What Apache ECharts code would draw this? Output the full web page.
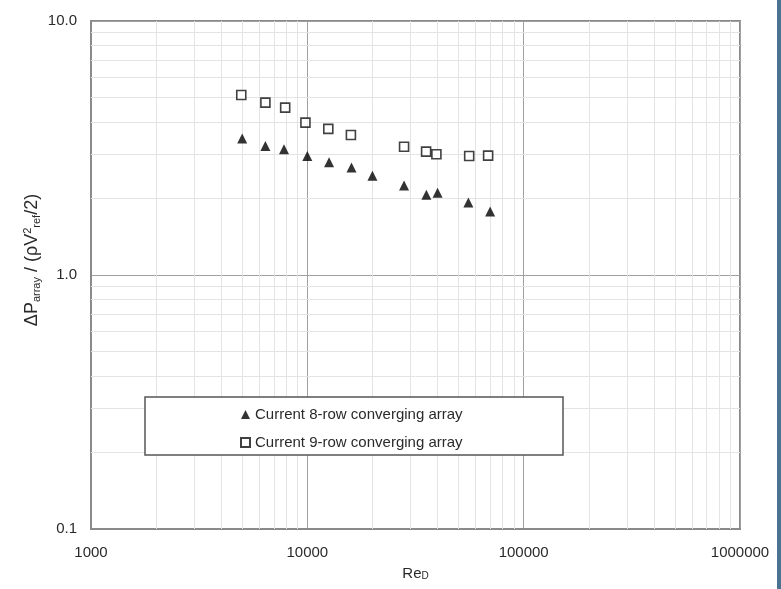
<!DOCTYPE html>
<html>
<head>
<meta charset="utf-8">
<script src="https://cdn.jsdelivr.net/npm/echarts@6/dist/echarts.min.js"></script>
<style>
html,body{margin:0;padding:0;background:#fff;}
#chart{width:781px;height:589px;}
</style>
</head>
<body>
<div id="chart"></div>
<script>
// Data
const re8 = [5000, 6400, 7800, 10000, 12600, 16000, 20000, 28000, 35500, 40000, 55500, 70000];
const dp8 = [3.45, 3.22, 3.13, 2.94, 2.78, 2.65, 2.46, 2.25, 2.07, 2.11, 1.93, 1.78];
const re9 = [4950, 6400, 7900, 9800, 12500, 15900, 28000, 35400, 39500, 56000, 68500];
const dp9 = [5.11, 4.77, 4.56, 3.98, 3.76, 3.56, 3.20, 3.06, 2.99, 2.94, 2.95];
const name8 = 'Current 8-row converging array';
const name9 = 'Current 9-row converging array';
const xTickLabels = ['1000', '10000', '100000', '1000000'];
const yTickLabels = ['0.1', '1.0', '10.0'];

const minorX = [];
[1000, 10000, 100000].forEach(d => { for (let k = 2; k <= 9; k++) minorX.push(d * k); });
const minorY = [];
[0.1, 1].forEach(d => { for (let k = 2; k <= 9; k++) minorY.push(+(d * k).toFixed(2)); });

const FONT = 'Liberation Sans, Arial, sans-serif';
const TXT = '#2a2a2a';
const chart = echarts.init(document.getElementById('chart'));
chart.setOption({
  animation: false,
  backgroundColor: '#fff',
  grid: { left: 91, top: 21, right: 41, bottom: 60, show: true, borderColor: '#8a8a8a', borderWidth: 2, backgroundColor: 'transparent' },
  xAxis: {
    type: 'log', logBase: 10, min: 1000, max: 1000000,
    axisLine: { show: true, lineStyle: { color: '#8a8a8a', width: 2 } },
    axisTick: { show: false },
    axisLabel: { margin: 16, fontFamily: FONT, fontSize: 15, color: TXT,
      formatter: v => xTickLabels.find(t => +t === Math.round(v)) || '' },
    splitLine: { show: true, lineStyle: { color: '#a0a0a0', width: 1 } },
    name: 'Re{s|D}', nameLocation: 'middle', nameGap: 37,
    nameTextStyle: { fontFamily: FONT, fontSize: 15, color: TXT,
      rich: { s: { fontSize: 10, verticalAlign: 'bottom', lineHeight: 8, fontFamily: FONT, color: TXT } } }
  },
  yAxis: {
    type: 'log', logBase: 10, min: 0.1, max: 10,
    axisLine: { show: true, lineStyle: { color: '#8a8a8a', width: 2 } },
    axisTick: { show: false },
    axisLabel: { margin: 14, fontFamily: FONT, fontSize: 15, color: TXT,
      formatter: v => yTickLabels.find(t => Math.abs(+t - v) < 1e-6) || '' },
    splitLine: { show: true, lineStyle: { color: '#a0a0a0', width: 1 } }
  },
  legend: {
    orient: 'vertical', left: 235, top: 402, itemGap: 13,
    itemWidth: 9, itemHeight: 9, z: 20,
    textStyle: { fontFamily: FONT, fontSize: 15, color: TXT },
    data: [
      { name: name8, icon: 'triangle' },
      { name: name9, icon: 'rect' }
    ]
  },
  graphic: [
    { type: 'rect', z: 15, shape: { x: 145, y: 397, width: 418, height: 58 },
      style: { fill: '#fff', stroke: '#555', lineWidth: 1.5 } },
    { type: 'text', z: 10, x: 32, y: 260, rotation: Math.PI / 2,
      style: {
        text: '{n|ΔP}{s|array}{n| / (ρV}{p|2}{s|ref}{n|/2)}',
        align: 'center', verticalAlign: 'middle',
        rich: {
          n: { fontFamily: FONT, fontSize: 18, lineHeight: 20, fill: TXT },
          s: { fontFamily: FONT, fontSize: 11, lineHeight: 9, verticalAlign: 'bottom', fill: TXT },
          p: { fontFamily: FONT, fontSize: 11, lineHeight: 9, verticalAlign: 'top', fill: TXT }
        }
      } },
    { type: 'rect', z: 30, shape: { x: 777, y: 0, width: 4, height: 589 }, style: { fill: '#4a7391' } }
  ],
  series: [
    {
      name: name8, type: 'scatter', symbol: 'triangle', symbolSize: 10, z: 5,
      itemStyle: { color: '#000' },
      data: re8.map((x, i) => [x, dp8[i]]),
      markLine: {
        silent: true, symbol: 'none', z: 1, animation: false,
        label: { show: false },
        lineStyle: { color: '#e4e4e4', width: 1, type: 'solid' },
        data: minorX.map(v => ({ xAxis: v })).concat(minorY.map(v => ({ yAxis: v })))
      }
    },
    {
      name: name9, type: 'scatter', symbol: 'rect', symbolSize: 9, z: 5,
      itemStyle: { color: '#fff', borderColor: '#111', borderWidth: 1.6 },
      data: re9.map((x, i) => [x, dp9[i]])
    }
  ]
});
</script>
</body>
</html>
